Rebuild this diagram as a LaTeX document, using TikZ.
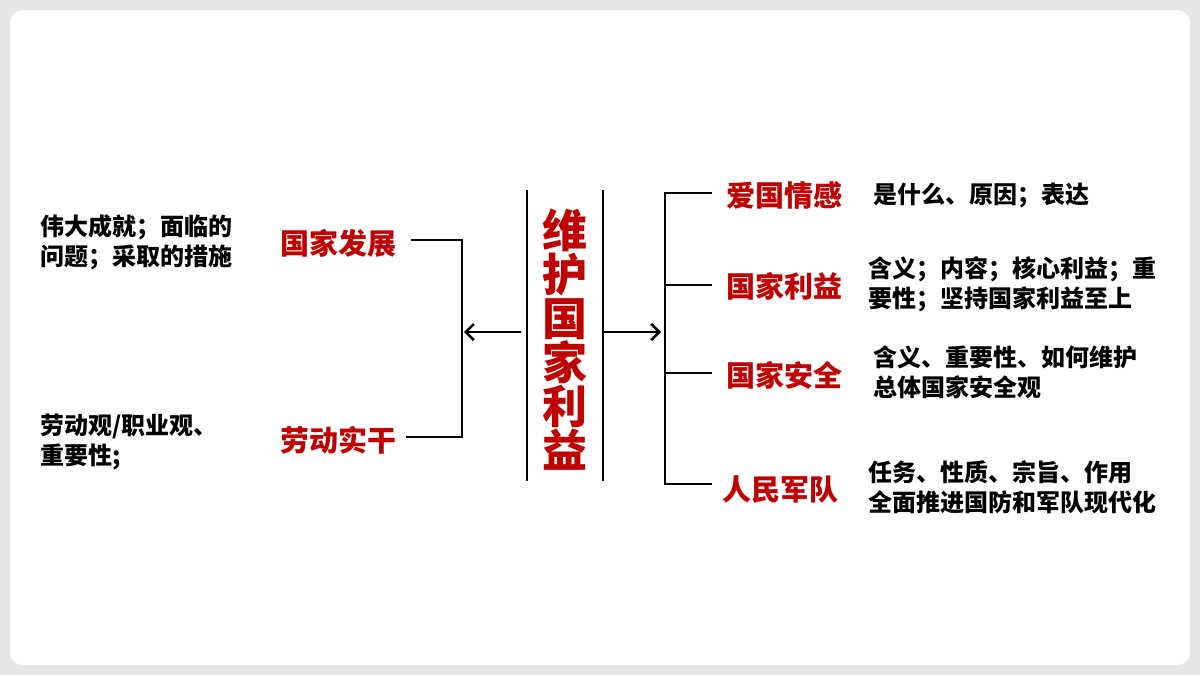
\documentclass[tikz,border=0pt]{standalone}
\usepackage{fontspec}
\newfontfamily\cjk{Noto Sans CJK SC}
\definecolor{myred}{HTML}{C00000}
\usetikzlibrary{arrows.meta}
\begin{document}
\begin{tikzpicture}[x=1pt,y=-1pt,
  red/.style={font=\cjk\bfseries\fontsize{29}{32}\selectfont,text=myred,inner sep=0},
  blk/.style={font=\cjk\bfseries\fontsize{24}{30}\selectfont,align=left,anchor=west,inner sep=0},
  ln/.style={line width=2.2pt},
  arr/.style={line width=2.6pt,-{Straight Barb[length=8pt,width=16pt,line width=2.6pt]}}]
\fill[gray!20] (0,0) rectangle (1200,675);
\fill[white,rounded corners=12pt] (10,10) rectangle (1190,665);
\useasboundingbox (0,0) rectangle (1200,675);
% center
\draw[ln] (527,190) -- (527,481);
\draw[ln] (603,190) -- (603,481);
\node[font=\cjk\bfseries\fontsize{45}{45}\selectfont,text=myred,align=center,inner sep=0] (t) at (565,340) {维\\[-1pt]护\\[-1pt]国\\[-1pt]家\\[-1pt]利\\[-1pt]益};
\coordinate (la) at (521,332); \coordinate (lb) at (464,332);
\coordinate (ra) at (604,332); \coordinate (rb) at (661,332);
\draw[arr] (la) -- (lb);
\draw[arr] (ra) -- (rb);
% left bracket
\node[red] (fz) at (338,243) {国家发展};
\node[red] (ld) at (338,440) {劳动实干};
\draw[ln] (411,240) -- (462,240) -- (462,437) -- (406,437);
% right bracket
\node[red] (ag) at (784,195) {爱国情感};
\node[red] (ly) at (784,286) {国家利益};
\node[red] (aq) at (784,375) {国家安全};
\node[red] (jd) at (780,490) {人民军队};
\draw[ln] (712,193) -- (665,193) -- (665,484) -- (712,484);
\draw[ln] (665,285) -- (712,285);
\draw[ln] (665,373) -- (712,373);
% texts
\node[blk] (a1) at (873,195) {是什么、原因；表达};
\node[blk] (a2) at (868,284) {含义；内容；核心利益；重\\要性；坚持国家利益至上};
\node[blk] (a3) at (873,372) {含义、重要性、如何维护\\总体国家安全观};
\node[blk] (a4) at (868,487) {任务、性质、宗旨、作用\\全面推进国防和军队现代化};
\node[blk] (l1) at (40,242) {伟大成就；面临的\\问题；采取的措施};
\node[blk] (l2) at (40,442) {劳动观/职业观、\\重要性;};
\end{tikzpicture}
\end{document}
